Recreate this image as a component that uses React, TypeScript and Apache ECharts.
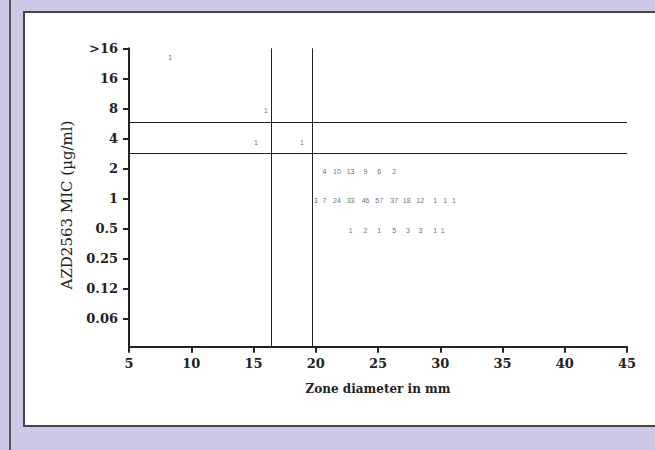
import React, { useEffect, useRef } from "react";
import * as echarts from "echarts";

// MIC levels (category index 0..9 on the y axis)
const yLabels = ["0.06", "0.12", "0.25", "0.5", "1", "2", "4", "8", "16", ">16"];
const yTickIdx = [0, 1, 2, 3, 4, 5, 6, 7, 8, 9];

// column positions (zone diameter, mm) of the count labels
const colX = [20.0, 20.7, 21.7, 22.8, 24.0, 25.1, 26.3, 27.3, 28.4, 29.6, 30.4, 31.1];

// MIC = 1 row
const row1Counts = [3, 7, 24, 33, 46, 57, 37, 18, 12, 1, 1, 1];
const row1X = colX;
const row1Y = 3.93;

// MIC = 2 row
const row2Counts = [4, 10, 13, 9, 6, 2];
const row2X = [20.7, 21.7, 22.8, 24.0, 25.1, 26.3];
const row2Y = 4.9;

// MIC = 0.5 row
const row05Counts = [1, 2, 1, 5, 3, 3, 1, 1];
const row05X = [22.8, 24.0, 25.1, 26.3, 27.4, 28.4, 29.6, 30.2];
const row05Y = 2.93;

// isolated counts
const otherCounts = [1, 1, 1, 1];
const otherX = [8.3, 16.0, 15.2, 18.9];
const otherY = [8.7, 6.93, 5.87, 5.85];

// breakpoint lines
const vLines = [16.45, 19.75];
const hLines = [5.5, 6.55];

const X_MIN = 5;
const X_MAX = 45;
const Y_MIN = -0.947;
const Y_MAX = 9;

function toPoints(xs: number[], ys: number[] | number, counts: number[]) {
  return counts.map((c, i) => [xs[i], Array.isArray(ys) ? ys[i] : ys, c]);
}

export default function App() {
  const ref = useRef<HTMLDivElement>(null);

  useEffect(() => {
    if (!ref.current) return;
    const chart = echarts.init(ref.current, undefined, { renderer: "svg" });
    const labelStyle = {
      show: true,
      position: "inside",
      formatter: (p: any) => String(p.value[2]),
      fontSize: 7,
      color: "#444",
      textBorderWidth: 0,
      fontFamily: "Liberation Sans",
    };
    const mkSeries = (data: number[][]) => ({
      type: "scatter",
      data,
      symbolSize: 1,
      itemStyle: { color: "rgba(0,0,0,0)" },
      label: labelStyle,
      silent: true,
    });
    const axisFont = {
      fontFamily: "DejaVu Serif",
      fontWeight: "bold",
      fontSize: 13,
      color: "#222",
    };
    chart.setOption({
      animation: false,
      backgroundColor: "transparent",
      grid: {
        left: 129,
        right: 28,
        top: 48.3,
        bottom: 103.3,
        containLabel: false,
        outerBoundsMode: "none",
      },
      graphic: [
        {
          type: "text",
          x: 67,
          y: 205,
          rotation: Math.PI / 2,
          style: {
            text: "AZD2563 MIC (µg/ml)",
            fontFamily: "DejaVu Serif",
            fontSize: 15,
            fill: "#222",
            textAlign: "center",
            textVerticalAlign: "middle",
          },
        },
      ],
      xAxis: {
        type: "value",
        min: X_MIN,
        max: X_MAX,
        interval: 5,
        name: "Zone diameter in mm",
        nameLocation: "middle",
        nameGap: 36,
        nameTextStyle: { ...axisFont, fontSize: 12 },
        axisLine: { show: true, onZero: false, lineStyle: { color: "#222", width: 2 } },
        axisTick: { show: true, length: 6, lineStyle: { color: "#222", width: 2 } },
        axisLabel: { ...axisFont, margin: 10 },
        splitLine: { show: false },
      },
      yAxis: {
        type: "value",
        min: Y_MIN,
        max: Y_MAX,
        axisLine: { show: true, onZero: false, lineStyle: { color: "#222", width: 2 } },
        axisTick: {
          show: true,
          length: 6,
          customValues: yTickIdx,
          lineStyle: { color: "#222", width: 2 },
        },
        axisLabel: {
          ...axisFont,
          margin: 11,
          customValues: yTickIdx,
          formatter: (v: number) => yLabels[Math.round(v)] ?? "",
        },
        splitLine: { show: false },
      },
      series: [
        mkSeries(toPoints(row1X, row1Y, row1Counts)),
        mkSeries(toPoints(row2X, row2Y, row2Counts)),
        mkSeries(toPoints(row05X, row05Y, row05Counts)),
        mkSeries(toPoints(otherX, otherY, otherCounts)),
        {
          type: "line",
          data: [],
          silent: true,
          markLine: {
            silent: true,
            symbol: ["none", "none"],
            label: { show: false },
            lineStyle: { color: "#222", width: 1, type: "solid" },
            emphasis: { disabled: true },
            data: [
              ...vLines.map((v) => ({ xAxis: v })),
              ...hLines.map((v) => ({ yAxis: v })),
            ],
          },
        },
      ],
    });
    return () => chart.dispose();
  }, []);

  return (
    <div
      style={{
        position: "absolute",
        left: 0,
        top: 0,
        width: 655,
        height: 450,
        background: "#cbc9e5",
        overflow: "hidden",
      }}
    >
      <div
        style={{
          position: "absolute",
          left: 9,
          top: 0,
          width: 2,
          height: 450,
          background: "#555",
        }}
      />
      <div
        style={{
          position: "absolute",
          left: 23,
          top: 11,
          width: 700,
          height: 416,
          background: "#fff",
          border: "2px solid #444",
          boxSizing: "border-box",
        }}
      />
      <div
        ref={ref}
        style={{ position: "absolute", left: 0, top: 0, width: 655, height: 450 }}
      />
    </div>
  );
}
